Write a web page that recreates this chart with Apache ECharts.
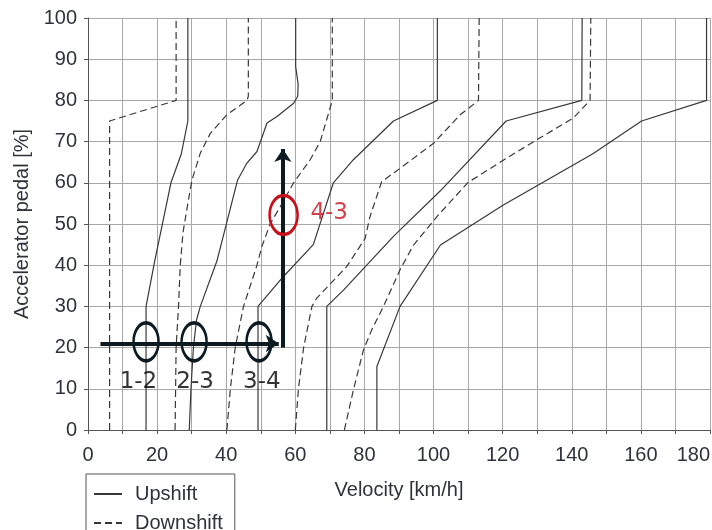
<!DOCTYPE html>
<html>
<head>
<meta charset="utf-8">
<script src="https://cdn.jsdelivr.net/npm/echarts@6/dist/echarts.min.js"></script>
<style>
  html, body { margin: 0; padding: 0; background: #fff; }
  #main { width: 712px; height: 530px; }
</style>
</head>
<body>
<div id="main"></div>
<script>
// shift curves, [velocity km/h, pedal %]
var up12 = [[16.8, 0], [16.8, 30], [19.3, 41], [24, 60], [27, 67], [28.9, 75], [28.9, 100]];
var up23 = [[29.3, 0], [29.8, 10], [30.5, 20], [31.4, 26.7], [32.5, 30], [37.3, 41], [43.3, 60.7], [46, 64.8],
    [48.9, 67.6], [51.8, 74.5], [54.7, 76.1], [59.5, 79.3], [60.7, 81], [60.8, 84], [60.1, 88.2], [60.1, 100]];
var up34 = [[49.2, 0], [49.2, 30], [56.5, 37.2], [65.2, 45], [71, 60], [76.8, 65.6], [88.4, 75], [101.1, 80], [101.1, 100]];
var up45 = [[69.1, 0], [69.1, 30], [74, 34], [88.4, 47], [101.9, 58], [121, 75], [142.9, 80], [143, 100]];
var up56 = [[83.6, 0], [83.6, 15.4], [90.3, 30], [102, 44.9], [120.2, 54.6], [146, 67], [160.2, 75], [179, 80], [179, 100]];

var down21 = [[6.25, 0], [6.25, 75], [25.5, 80], [25.5, 100]];
var down32 = [[25.2, 0], [25.5, 20], [26.2, 30], [26.7, 40], [27.5, 48], [29.1, 56], [30.1, 60.7], [32.5, 67.2],
    [35.4, 72], [40.2, 76.5], [46, 80], [46.4, 81], [46.4, 100]];
var down43 = [[40.2, 0], [41.2, 10], [42.6, 20], [45, 30], [48.9, 40], [50.3, 44.5], [52.7, 50], [55.7, 54.3],
    [59.5, 60], [64.3, 65.6], [67.2, 70], [70.7, 80], [70.7, 100]];
var down54 = [[60, 0], [60.9, 10], [62.4, 20], [64.8, 30], [66.2, 32], [74.9, 39.7], [80.2, 46.5], [81.6, 51.8],
    [85, 60.3], [89, 62.7], [100, 69.6], [107.7, 76.5], [113, 80], [113.2, 100]];
var down65 = [[74.2, 0], [76.8, 9.7], [79.7, 19.4], [82.1, 24.3], [85.5, 30], [90.3, 38.9], [94.2, 44.9], [101.4, 52.2],
    [110, 60.1], [121.2, 66], [129.8, 70.4], [140.4, 75.7], [145.3, 80], [145.5, 100]];

// annotations
var arrowH = [[3.6, 21], [55.2, 21]];
var arrowV = [[56.4, 20], [56.4, 68.2]];
var blackRings = [[16.8, 21.4], [30.7, 21.4], [49.5, 21.4]];
var redRing = [[56.6, 52.2]];
var ringLabels = [{ name: '1-2', value: [14.6, 11.7] }, { name: '2-3', value: [31, 11.7] }, { name: '3-4', value: [50.3, 11.7] }];
var redLabel = [{ name: '4-3', value: [69.8, 52.6] }];

var textColor = '#2e323a';
var curveColor = '#383838';

function curve(name, data, dashed) {
    return {
        name: name,
        type: 'line',
        data: data,
        symbol: 'none',
        silent: true,
        z: 2,
        lineStyle: {
            color: curveColor,
            width: 1.2,
            type: dashed ? [7, 4] : 'solid'
        },
        itemStyle: { color: curveColor }
    };
}

var myChart = echarts.init(document.getElementById('main'));

var option = {
    animation: false,
    backgroundColor: '#fff',
    grid: { left: 88, right: 2, top: 18, bottom: 100, containLabel: false, outerBoundsMode: 'none' },
    legend: {
        data: ['Upshift', 'Downshift'],
        orient: 'vertical',
        left: 86,
        top: 474,
        height: 90,
        padding: [10, 12, 8, 7],
        itemGap: 9,
        itemWidth: 28,
        itemHeight: 20,
        borderColor: '#555',
        borderWidth: 1,
        borderRadius: 0,
        selectedMode: false,
        itemStyle: { color: 'rgba(0,0,0,0)', borderWidth: 0, opacity: 0 },
        textStyle: { color: textColor, fontSize: 20, fontFamily: 'Liberation Sans', padding: [0, 0, 0, 8] }
    },
    xAxis: {
        type: 'value',
        min: 0,
        max: 180,
        interval: 10,
        name: 'Velocity [km/h]',
        nameLocation: 'middle',
        nameGap: 50,
        nameTextStyle: { color: textColor, fontSize: 20, fontFamily: 'Liberation Sans' },
        axisLine: { show: true, lineStyle: { color: '#555', width: 1 } },
        axisTick: { show: true, length: 4, lineStyle: { color: '#555' } },
        axisLabel: {
            color: textColor, fontSize: 20, fontFamily: 'Liberation Sans', margin: 15,
            alignMaxLabel: 'right',
            formatter: function (v) { return v % 20 === 0 ? String(v) : ''; }
        },
        splitLine: { show: true, lineStyle: { color: '#a8a8a8', width: 1 } }
    },
    yAxis: {
        type: 'value',
        min: 0,
        max: 100,
        interval: 10,
        name: 'Accelerator pedal [%]',
        nameLocation: 'middle',
        nameGap: 56,
        nameTextStyle: { color: textColor, fontSize: 20, fontFamily: 'Liberation Sans' },
        axisLine: { show: true, lineStyle: { color: '#555', width: 1 } },
        axisTick: { show: true, length: 4, lineStyle: { color: '#555' } },
        axisLabel: { color: textColor, fontSize: 20, fontFamily: 'Liberation Sans', margin: 11 },
        splitLine: { show: true, lineStyle: { color: '#a8a8a8', width: 1 } }
    },
    series: [
        curve('Upshift', up12, false),
        curve('Upshift', up23, false),
        curve('Upshift', up34, false),
        curve('Upshift', up45, false),
        curve('Upshift', up56, false),
        curve('Downshift', down21, true),
        curve('Downshift', down32, true),
        curve('Downshift', down43, true),
        curve('Downshift', down54, true),
        curve('Downshift', down65, true),
        {
            type: 'lines',
            coordinateSystem: 'cartesian2d',
            silent: true,
            z: 5,
            symbol: ['none', 'arrow'],
            symbolSize: 13,
            lineStyle: { color: '#0d1a22', width: 4, opacity: 1, curveness: 0 },
            data: [{ coords: arrowH }, { coords: arrowV }]
        },
        {
            type: 'scatter',
            silent: true,
            z: 6,
            symbol: 'circle',
            symbolSize: [25, 38],
            itemStyle: { color: 'rgba(0,0,0,0)', borderColor: '#0d1a22', borderWidth: 3, opacity: 1 },
            data: blackRings
        },
        {
            type: 'scatter',
            silent: true,
            z: 6,
            symbol: 'circle',
            symbolSize: [28, 39],
            itemStyle: { color: 'rgba(0,0,0,0)', borderColor: '#c8101a', borderWidth: 3, opacity: 1 },
            data: redRing
        },
        {
            type: 'scatter',
            silent: true,
            z: 7,
            symbolSize: 0,
            label: {
                show: true, position: 'inside', formatter: '{b}',
                color: '#000', fontSize: 23, fontFamily: 'DejaVu Sans'
            },
            data: ringLabels
        },
        {
            type: 'scatter',
            silent: true,
            z: 7,
            symbolSize: 0,
            label: {
                show: true, position: 'inside', formatter: '{b}',
                color: '#c8101a', fontSize: 23, fontFamily: 'DejaVu Sans'
            },
            data: redLabel
        }
    ]
};

myChart.setOption(option);
</script>
</body>
</html>
